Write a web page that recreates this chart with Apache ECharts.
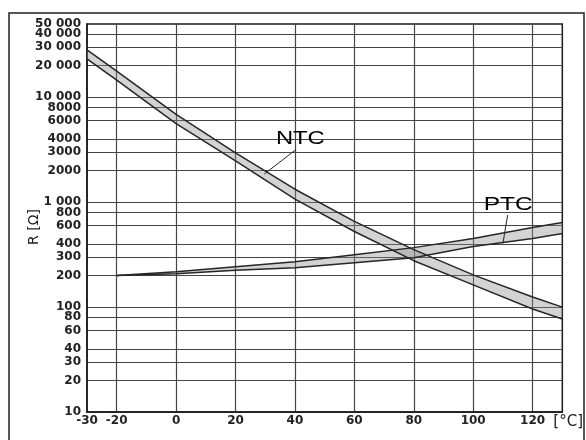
<!DOCTYPE html>
<html><head><meta charset="utf-8">
<script src="https://cdn.jsdelivr.net/npm/echarts@6/dist/echarts.min.js"></script>
<style>html,body{margin:0;padding:0;background:#fff}#c{width:586px;height:440px}</style>
</head><body><div id="c"></div>
<script>
// ---- data ----
const ntcTemps = [-30, -20, 0, 20, 40, 60, 80, 100, 120, 130];
const ntcUpper = [28300, 17800, 6870, 2960, 1330, 657, 353, 203, 125, 100];
const ntcLower = [23200, 14600, 5620, 2480, 1070, 526, 277, 163, 96, 77];
const ptcTemps = [-20, 0, 20, 40, 60, 80, 100, 120, 130];
const ptcUpper = [200, 217, 243, 271, 316, 369, 451, 575, 642];
const ptcLower = [200, 208, 224, 237, 265, 296, 378, 451, 503];
const xTickValues = [-30, -20, 0, 20, 40, 60, 80, 100, 120];
const xGridValues = [-20, 0, 20, 40, 60, 80, 100, 120];
const yTickValues = [10, 20, 30, 40, 60, 80, 100, 200, 300, 400, 600, 800, 1000, 2000, 3000, 4000, 6000, 8000, 10000, 20000, 30000, 40000];
const yTopTick = [50000];
const yTickLabels = ['10', '20', '30', '40', '60', '80', '100', '200', '300', '400', '600', '800', '1 000', '2000', '3000', '4000', '6000', '8000', '10 000', '20 000', '30 000', '40 000', '50 000'];
const yLabelValues = yTickValues.concat(yTopTick);
// annotation anchors (data units)
const ntcLabelAt = [41.8, 3990];
const ptcLabelAt = [111.8, 946];
const ntcLeader = [[40.4, 3185], [29.7, 1858]];
const ptcLeader = [[111.6, 755], [110, 404]];

const FONT = 'DejaVu Sans';
const chart = echarts.init(document.getElementById('c'));

function labelFor(v) {
  for (let i = 0; i < yLabelValues.length; i++) {
    if (Math.abs(Math.log10(v) - Math.log10(yLabelValues[i])) < 1e-4) return yTickLabels[i];
  }
  return '';
}
function bandSeries(name, ts, up, lo) {
  return {
    type: 'custom', name: name, z: 2, clip: true, silent: true,
    data: ts.map((t, i) => [t, up[i], lo[i]]),
    encode: { x: 0, y: [1, 2] },
    renderItem: function (params, api) {
      if (params.dataIndex !== 0) return null;
      const pts = [];
      for (let i = 0; i < ts.length; i++) pts.push(api.coord([ts[i], up[i]]));
      for (let i = ts.length - 1; i >= 0; i--) pts.push(api.coord([ts[i], lo[i]]));
      return { type: 'polygon', shape: { points: pts }, style: { fill: 'rgba(140,140,140,0.38)', stroke: null } };
    }
  };
}
function lineSeries(name, ts, vals, extra) {
  return Object.assign({
    type: 'line', name: name, data: ts.map((t, i) => [t, vals[i]]),
    symbol: 'none', z: 3, silent: true, clip: true,
    lineStyle: { color: '#262626', width: 1.5 }
  }, extra || {});
}
function leader(seg) {
  return {
    symbol: 'none', silent: true, label: { show: false },
    lineStyle: { color: '#262626', width: 1, type: 'solid' },
    data: [[{ coord: seg[0] }, { coord: seg[1] }]]
  };
}
const yLabelStyle = { margin: 6, formatter: labelFor, fontFamily: FONT, fontWeight: 'bold', fontSize: 12, color: '#222' };

const option = {
  animation: false,
  backgroundColor: '#fff',
  grid: { left: 87, right: 22, top: 24, bottom: 28, show: true, borderColor: '#1a1a1a', borderWidth: 1.5, backgroundColor: 'transparent' },
  xAxis: {
    type: 'value', min: -30, max: 130,
    name: '[°C]', nameLocation: 'end', nameGap: -9, nameMoveOverlap: false,
    nameTextStyle: { fontFamily: FONT, fontSize: 15, color: '#222', verticalAlign: 'top', align: 'left', padding: [3, 0, 0, 0] },
    axisLine: { show: true, onZero: false, lineStyle: { color: '#1a1a1a', width: 1.5 } },
    axisTick: { show: false, customValues: xGridValues },
    axisLabel: { customValues: xTickValues, margin: 3, showMinLabel: true, showMaxLabel: true, hideOverlap: false, fontFamily: FONT, fontWeight: 'bold', fontSize: 12, color: '#222' },
    splitLine: { show: true, lineStyle: { color: '#454545', width: 1.2 } }
  },
  yAxis: [{
    type: 'log', logBase: 10, min: 10, max: 50000,
    name: 'R [Ω]', nameLocation: 'middle', nameRotate: 90, nameGap: 46, nameMoveOverlap: false,
    nameTextStyle: { fontFamily: FONT, fontSize: 14, color: '#222', padding: [0, 18, 0, 0] },
    axisLine: { show: true, onZero: false, lineStyle: { color: '#1a1a1a', width: 1.5 } },
    axisTick: { show: false, customValues: yTickValues },
    axisLabel: Object.assign({ customValues: yTickValues, showMinLabel: true, showMaxLabel: true, hideOverlap: false }, yLabelStyle),
    splitLine: { show: true, lineStyle: { color: '#454545', width: 1.2 } }
  }, {
    type: 'log', logBase: 10, min: 10, max: 50002, position: 'left',
    axisLine: { show: false }, axisTick: { show: false, customValues: yTopTick }, splitLine: { show: false },
    axisLabel: Object.assign({ customValues: yTopTick, showMinLabel: true, showMaxLabel: true, hideOverlap: false }, yLabelStyle)
  }],
  series: [
    bandSeries('NTC band', ntcTemps, ntcUpper, ntcLower),
    bandSeries('PTC band', ptcTemps, ptcUpper, ptcLower),
    lineSeries('NTC upper', ntcTemps, ntcUpper, { markLine: leader(ntcLeader) }),
    lineSeries('NTC lower', ntcTemps, ntcLower),
    lineSeries('PTC upper', ptcTemps, ptcUpper, { markLine: leader(ptcLeader) }),
    lineSeries('PTC lower', ptcTemps, ptcLower)
  ]
};
chart.setOption(option);

const np = chart.convertToPixel({ xAxisIndex: 0, yAxisIndex: 0 }, ntcLabelAt);
const pp = chart.convertToPixel({ xAxisIndex: 0, yAxisIndex: 0 }, ptcLabelAt);
chart.setOption({
  graphic: [
    { type: 'rect', silent: true, shape: { x: 9, y: 13, width: 575, height: 440 }, style: { fill: 'none', stroke: '#222', lineWidth: 1.5 } },
    { type: 'text', silent: true, x: np[0], y: np[1], scaleX: 1.32, style: { text: 'NTC', font: '18px "Liberation Sans"', fill: '#000', textAlign: 'center', textVerticalAlign: 'middle' } },
    { type: 'text', silent: true, x: pp[0], y: pp[1], scaleX: 1.36, style: { text: 'PTC', font: '18px "Liberation Sans"', fill: '#000', textAlign: 'center', textVerticalAlign: 'middle' } }
  ]
});
</script>
</body></html>
